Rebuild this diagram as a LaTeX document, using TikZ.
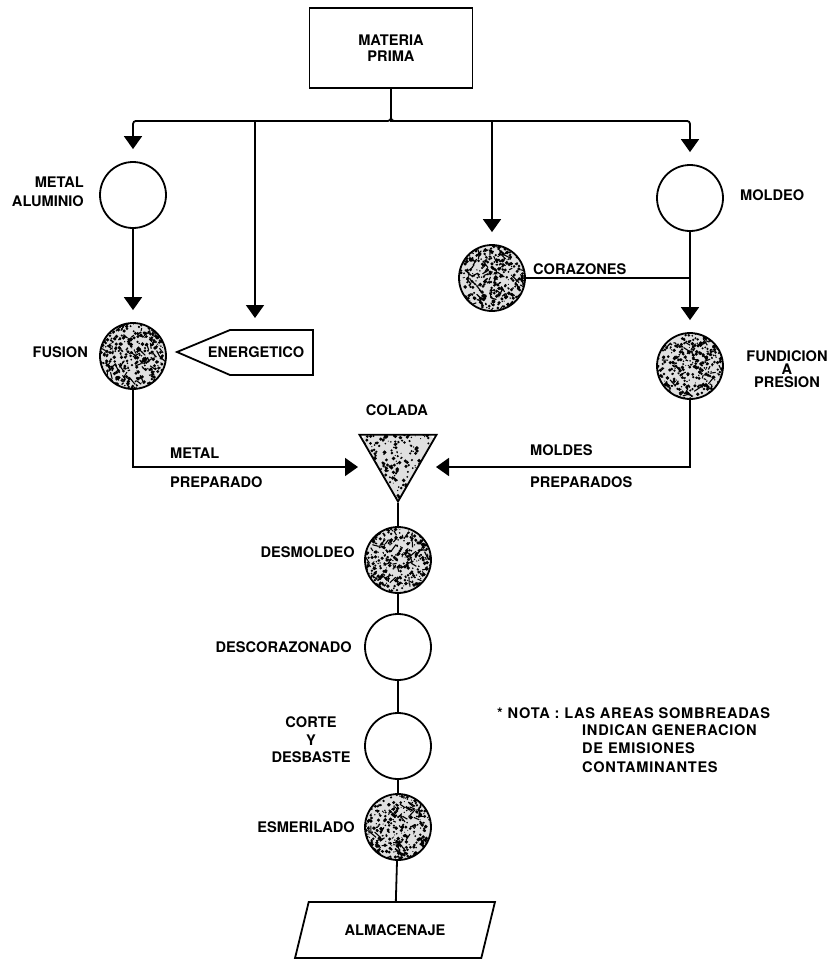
\documentclass[tikz,border=0pt]{standalone}
\usepackage{fontspec}
\setmainfont{TeX Gyre Heros}
\newfontfamily\notefont[LetterSpace=5]{TeX Gyre Heros}
\usetikzlibrary{shapes.geometric,calc,arrows.meta}
\tikzset{
  lbl/.style={inner sep=0pt,font=\bfseries\fontsize{14.6}{16}\selectfont},
  ln/.style={line width=1.8pt},
  arr/.style={ln,-{Triangle[width=18pt,length=13pt]},shorten >=12pt},
  proc/.style={circle,draw,line width=1.8pt,minimum size=66pt,inner sep=0pt},
  speck/.style={proc,path picture={
    \pgfmathsetseed{#1}
    \fill[black!12] (path picture bounding box.center) circle (34pt);
    \foreach \k in {1,...,400}{
      \pgfmathsetmacro\xx{rand*34}
      \pgfmathsetmacro\yy{rand*34}
      \pgfmathsetmacro\rr{0.5+rnd*1.5}
      \fill ([shift={(\xx pt,\yy pt)}]path picture bounding box.center) circle (\rr pt);
    }
    \foreach \k in {1,...,60}{
      \pgfmathsetmacro\xx{rand*30}
      \pgfmathsetmacro\yy{rand*30}
      \pgfmathsetmacro\dx{rand*7}
      \pgfmathsetmacro\dy{rand*7}
      \draw[line width=1.1pt] ([shift={(\xx pt,\yy pt)}]path picture bounding box.center) -- ++(\dx pt,\dy pt);
    }
  }},
}
\begin{document}
\begin{tikzpicture}[x=1pt,y=-1pt]
\useasboundingbox (0,0) rectangle (835,970);

% top box
\node[draw,line width=1.8pt,minimum width=163pt,minimum height=80pt,align=center,
      inner sep=0pt,font=\bfseries\fontsize{14.6}{15.5}\selectfont] (mp) at (391,48) {MATERIA\\PRIMA};

% process symbols
\node[proc] (alu) at (133,195) {};
\node[speck=3] (fus) at (133,356) {};
\node[speck=5] (cor) at (492,278) {};
\node[proc] (mol) at (690,198) {};
\node[speck=7] (fun) at (690,366) {};
\node[draw,line width=1.8pt,regular polygon,regular polygon sides=3,shape border rotate=180,
      minimum size=89pt,inner sep=0pt,path picture={
    \pgfmathsetseed{17}
    \fill[black!12] (path picture bounding box.center) circle (46pt);
    \foreach \k in {1,...,460}{
      \pgfmathsetmacro\xx{rand*44}
      \pgfmathsetmacro\yy{rand*44}
      \pgfmathsetmacro\rr{0.5+rnd*1.5}
      \fill ([shift={(\xx pt,\yy pt)}]path picture bounding box.center) circle (\rr pt);
    }}] (col) at (398,457) {};
\node[speck=11] (des) at (398,560) {};
\node[proc] (dcz) at (398,647) {};
\node[proc] (cdb) at (398,746) {};
\node[speck=13] (esm) at (398,827) {};
\node[draw,line width=1.8pt,trapezium,trapezium left angle=54,trapezium right angle=126,
      trapezium stretches=true,minimum width=200pt,minimum height=56pt,inner sep=0pt,
      font=\bfseries\fontsize{14.6}{16}\selectfont] (alm) at (395,930) {ALMACENAJE};

% energetico
\node[lbl] (ene) at (256,352) {ENERGETICO};
\draw[line width=1.8pt] (177,352) -- (230,330) -- (313,330) -- (313,375) -- (230,375) -- cycle;
\coordinate (eneTop) at (255,121);
\coordinate (eneIn) at (255,330);

% connectors from materia prima
\draw[ln] (mp.south) -- ++(0,32);
\draw[arr,rounded corners=3pt] (mp.south) -- ++(0,32) -| (alu);
\draw[arr,rounded corners=3pt] (mp.south) -- ++(0,32) -| (mol);
\draw[arr] (mp.south) -- ++(0,32) -| (cor);
\draw[arr] (eneTop) -- (eneIn);

\draw[arr] (alu) -- (fus);
\draw[arr] (mol) -- (fun);
\draw[ln] (cor.east) -- (cor.east -| mol);

\coordinate (colL) at (370,467);
\coordinate (colR) at (424,467);
\draw[arr] (fus) |- (colL);
\draw[arr] (fun) |- (colR);

\draw[ln] (col.south) -- (des);
\draw[ln] (des) -- (dcz);
\draw[ln] (dcz) -- (cdb);
\draw[ln] (cdb) -- (esm);
\draw[ln] (esm) -- (alm);

% labels
\node[lbl,anchor=east,align=right,font=\bfseries\fontsize{14.6}{19}\selectfont] (lalu) at (84,192) {METAL\\ALUMINIO};
\node[lbl,anchor=east] (lfus) at (88,352) {FUSION};
\node[lbl,anchor=west] (lmol) at (740,195) {MOLDEO};
\node[lbl,anchor=west] (lcor) at (533,269) {CORAZONES};
\node[lbl,align=center,font=\bfseries\fontsize{14.6}{13}\selectfont] (lfun) at (787,369) {FUNDICION\\A\\PRESION};
\node[lbl] (lcol) at (397,410) {COLADA};
\node[lbl,anchor=west] (lmet) at (170,453) {METAL};
\node[lbl,anchor=west] (lprep) at (170,482) {PREPARADO};
\node[lbl,anchor=west] (lmold) at (530,450) {MOLDES};
\node[lbl,anchor=west] (lmprep) at (530,482) {PREPARADOS};
\node[lbl,anchor=east] (ldes) at (355,552) {DESMOLDEO};
\node[lbl,anchor=east] (ldcz) at (352,647) {DESCORAZONADO};
\node[lbl,align=center,font=\bfseries\fontsize{14.6}{17.5}\selectfont] (lcdb) at (311,740) {CORTE\\Y\\DESBASTE};
\node[lbl,anchor=east] (lesm) at (355,827) {ESMERILADO};

% note
\node[lbl,anchor=west,font=\notefont\bfseries\fontsize{14.6}{16}\selectfont] (nota) at (497,713) {* NOTA : LAS AREAS SOMBREADAS};
\node[lbl,anchor=north west,align=left,font=\notefont\bfseries\fontsize{14.6}{18.5}\selectfont] (nota2) at (582,724) {INDICAN GENERACION\\DE EMISIONES\\CONTAMINANTES};
\end{tikzpicture}
\end{document}
